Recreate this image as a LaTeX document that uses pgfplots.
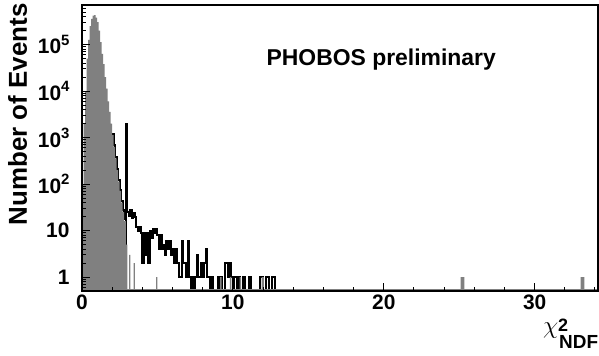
\documentclass[border=0pt]{standalone}
\usepackage{fontspec}
\setmainfont{Liberation Sans}
\usepackage{pgfplots}
\pgfplotsset{compat=1.18}
\definecolor{histgray}{RGB}{128,128,128}
\newcommand{\tf}{\fontsize{21}{21}\selectfont\bfseries}
\newcommand{\supf}{\fontsize{15}{15}\selectfont\bfseries}
\newcommand{\tp}[1]{\textbf{10}\raisebox{0.42em}{\supf #1}}
\begin{document}
\begin{tikzpicture}
\begin{axis}[
  name=ax,
  scale only axis,
  width=516bp, height=286bp,
  ymode=log,
  log origin y=infty,
  xmin=0, xmax=34.2,
  ymin=0.5, ymax=7.08e5,
  axis on top,
  axis line style={line width=1.2bp},
  every tick/.style={black, line width=1bp},
  major tick length=8bp,
  minor tick length=4bp,
  tick align=inside,
  xtick pos=bottom, ytick pos=left,
  xtick={0,10,20,30},
  minor xtick={2,4,6,8,12,14,16,18,22,24,26,28,32,34},
  ytick={1,10,100,1000,10000,100000},
  yticklabels={\textbf{1},\textbf{10},\tp{2},\tp{3},\tp{4},\tp{5}},
  minor ytick={0.6,0.7,0.8,0.9,2,3,4,5,6,7,8,9,20,30,40,50,60,70,80,90,200,300,400,500,600,700,800,900,2000,3000,4000,5000,6000,7000,8000,9000,2e4,3e4,4e4,5e4,6e4,7e4,8e4,9e4,2e5,3e5,4e5,5e5,6e5,7e5},
  /pgf/number format/assume math mode=true,
  xticklabel style={font=\tf},
  yticklabel style={font=\tf, xshift=-9bp},
  clip=true,
]
% black histogram (drawn first, gray covers it)
\addplot[const plot, black, line width=2bp] coordinates {
(2.0,1200)(2.1,675)(2.2,380)(2.3,214)(2.4,120)(2.5,76)(2.6,43)(2.7,27)(2.8,18)
(2.9,0.45)(2.9,2000)
(3.0,25)(3.1,21)(3.2,27)(3.3,19)(3.4,24)(3.5,20)(3.6,12)(3.7,10)(3.8,12)(3.9,9)
(4.0,2)(4.1,9)(4.2,3)(4.3,9)(4.4,2)(4.5,10)(4.6,7)(4.7,11)(4.8,9)(4.9,11)
(5.0,8)(5.1,4)(5.2,8)(5.3,4)(5.4,5)(5.5,3)(5.6,6)(5.7,4)(5.8,6)(5.9,3)
(6.0,4)(6.1,2)(6.2,4)(6.3,2)(6.4,1)(6.5,1)(6.6,6)(6.7,2)(6.8,2)(6.9,1)
(7.0,6)(7.1,1)(7.2,0.45)(7.3,1)(7.4,0.45)(7.5,1)(7.6,3)(7.7,1)(7.8,1)(7.9,2)
(8.0,1)(8.1,2)(8.2,4)(8.3,1)(8.4,1)(8.5,0.45)(8.6,1)(8.7,0.45)
(9.0,1)(9.1,0.45)(9.2,1)(9.3,0.45)(9.5,2)(9.6,2)(9.7,1)(9.8,2)(9.9,1)
(10.0,0.45)(10.1,1)(10.2,1)(10.3,0.45)(10.4,1)(10.5,0.45)(10.7,1)(10.8,0.45)
(11.1,1)(11.2,0.45)(11.8,1)(11.9,1)(12.0,0.45)(12.2,1)(12.3,1)(12.4,0.45)
(12.6,1)(12.7,1)(12.8,0.45)(34.2,0.45)
};
% gray histogram
\addplot[const plot, fill=histgray, draw=none] coordinates {
(0,100)(0.1,2000)(0.2,1e4)(0.3,5e4)(0.4,1.26e5)(0.5,2.5e5)(0.6,3.55e5)(0.7,4.17e5)
(0.8,4.27e5)(0.9,3.8e5)(1.0,3.02e5)(1.1,2.0e5)(1.2,1.12e5)(1.3,6.3e4)(1.4,3.8e4)
(1.5,2.0e4)(1.6,1.12e4)(1.7,6000)(1.8,3550)(1.9,2000)(2.0,1120)(2.1,630)(2.2,355)
(2.3,200)(2.4,112)(2.5,71)(2.6,40)(2.7,25)(2.8,16)(2.9,5)(3.0,0.55)
(3.12,3)(3.2,0.55)(3.42,2)(3.5,0.55)(4.92,1)(5.0,0.55)(9.15,1)(9.25,0.55)
(9.8,1)(9.9,0.55)(10.45,1)(10.55,0.55)(11.9,1)(12.05,0.55)(25.1,1)(25.35,0.55)
(33.05,1)(33.3,0.55)(34.2,0.55)
} \closedcycle;
\node[anchor=base west, font=\fontsize{23}{23}\selectfont\bfseries] at (rel axis cs:0.351,0.790) {PHOBOS preliminary};
\end{axis}
\node[rotate=90, anchor=base east, font=\fontsize{26}{26}\selectfont\bfseries] at ([xshift=-55bp,yshift=5bp]ax.north west) {Number of Events};
\node[anchor=base west, inner sep=0pt, font=\fontsize{30}{30}\selectfont] at ([xshift=-55bp,yshift=-42bp]ax.south east) {$\chi$};
\node[anchor=base west, inner sep=0pt, font=\fontsize{18}{18}\selectfont\bfseries] at ([xshift=-40bp,yshift=-40bp]ax.south east) {2};
\node[anchor=base west, inner sep=0pt, font=\fontsize{19}{19}\selectfont\bfseries] at ([xshift=-39bp,yshift=-57bp]ax.south east) {NDF};
\pgfresetboundingbox
\path[use as bounding box] ([xshift=-82bp,yshift=-65bp]ax.south west) rectangle ([xshift=1bp,yshift=5bp]ax.north east);
\end{tikzpicture}
\end{document}
